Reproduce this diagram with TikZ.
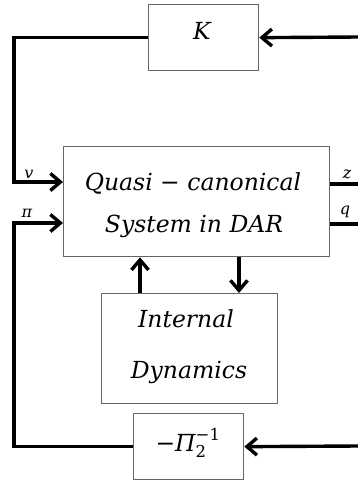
\documentclass[tikz,border=0pt]{standalone}
\usepackage{amsmath}
\usepackage{fontspec}
\setmainfont{DejaVu Serif}
\usetikzlibrary{arrows.meta}
\begin{document}
\begin{tikzpicture}[x=1pt,y=-1pt,
  blk/.style={draw=black!60, line width=1.3pt, fill=white, inner sep=0pt, anchor=north west},
  wire/.style={line width=3.4pt, line join=miter},
  arr/.style={wire, -{Straight Barb[length=10pt,width=17pt,line width=3.4pt]}},
  lbl/.style={font=\fontsize{23.5}{24}\selectfont\itshape, inner sep=0pt},
  small/.style={font=\fontsize{16}{16}\selectfont\itshape, inner sep=0pt}]
\useasboundingbox[fill=white] (0,0) rectangle (358,480);
% blocks
\node[blk, minimum width=110pt, minimum height=66pt] (K) at (148,4) {};
\node[blk, minimum width=266pt, minimum height=110pt] (M) at (63,146) {};
\node[blk, minimum width=176pt, minimum height=110pt] (I) at (101,293) {};
\node[blk, minimum width=110pt, minimum height=66pt] (P) at (133,413) {};
% texts
\node[lbl] (tK) at (202,31) {K};
\node[lbl] (tM1) at (193,183) {Quasi − canonical};
\node[lbl] (tM2) at (194,226) {System in DAR};
\node[lbl] (tI1) at (186,319) {Internal};
\node[lbl] (tI2) at (189,372) {Dynamics};
\node[lbl] (tP) at (188,443) {$\text{−\itshape Π}^{\text{\upshape −1}}_{\text{\upshape 2}}$};
% coordinates
\coordinate (kin) at (358,37);
\coordinate (vc) at (14,182);
\coordinate (pc) at (14,223);
\coordinate (pin) at (358,446);
\coordinate (zc) at (358,184);
\coordinate (qc) at (358,224);
\coordinate (ua) at (140,0);
\coordinate (da) at (239,0);
% connectors
\draw[arr] (kin) -- (K.east);
\draw[arr] (K.west) -| (vc) -- (vc -| M.west);
\draw[arr] (pin) -- (P.east);
\draw[arr] (P.west) -| (pc) -- (pc -| M.west);
\draw[wire] (zc -| M.east) -- (zc);
\draw[wire] (qc -| M.east) -- (qc);
\draw[arr] (ua |- I.north) -- (ua |- M.south);
\draw[arr] (da |- M.south) -- (da |- I.north);
% signal labels
\node[small] (lv) at (29,174) {v};
\node[small] (lpi) at (27,213) {π};
\node[small] (lz) at (347,174) {z};
\node[small] (lq) at (345,212) {q};
\end{tikzpicture}
\end{document}
